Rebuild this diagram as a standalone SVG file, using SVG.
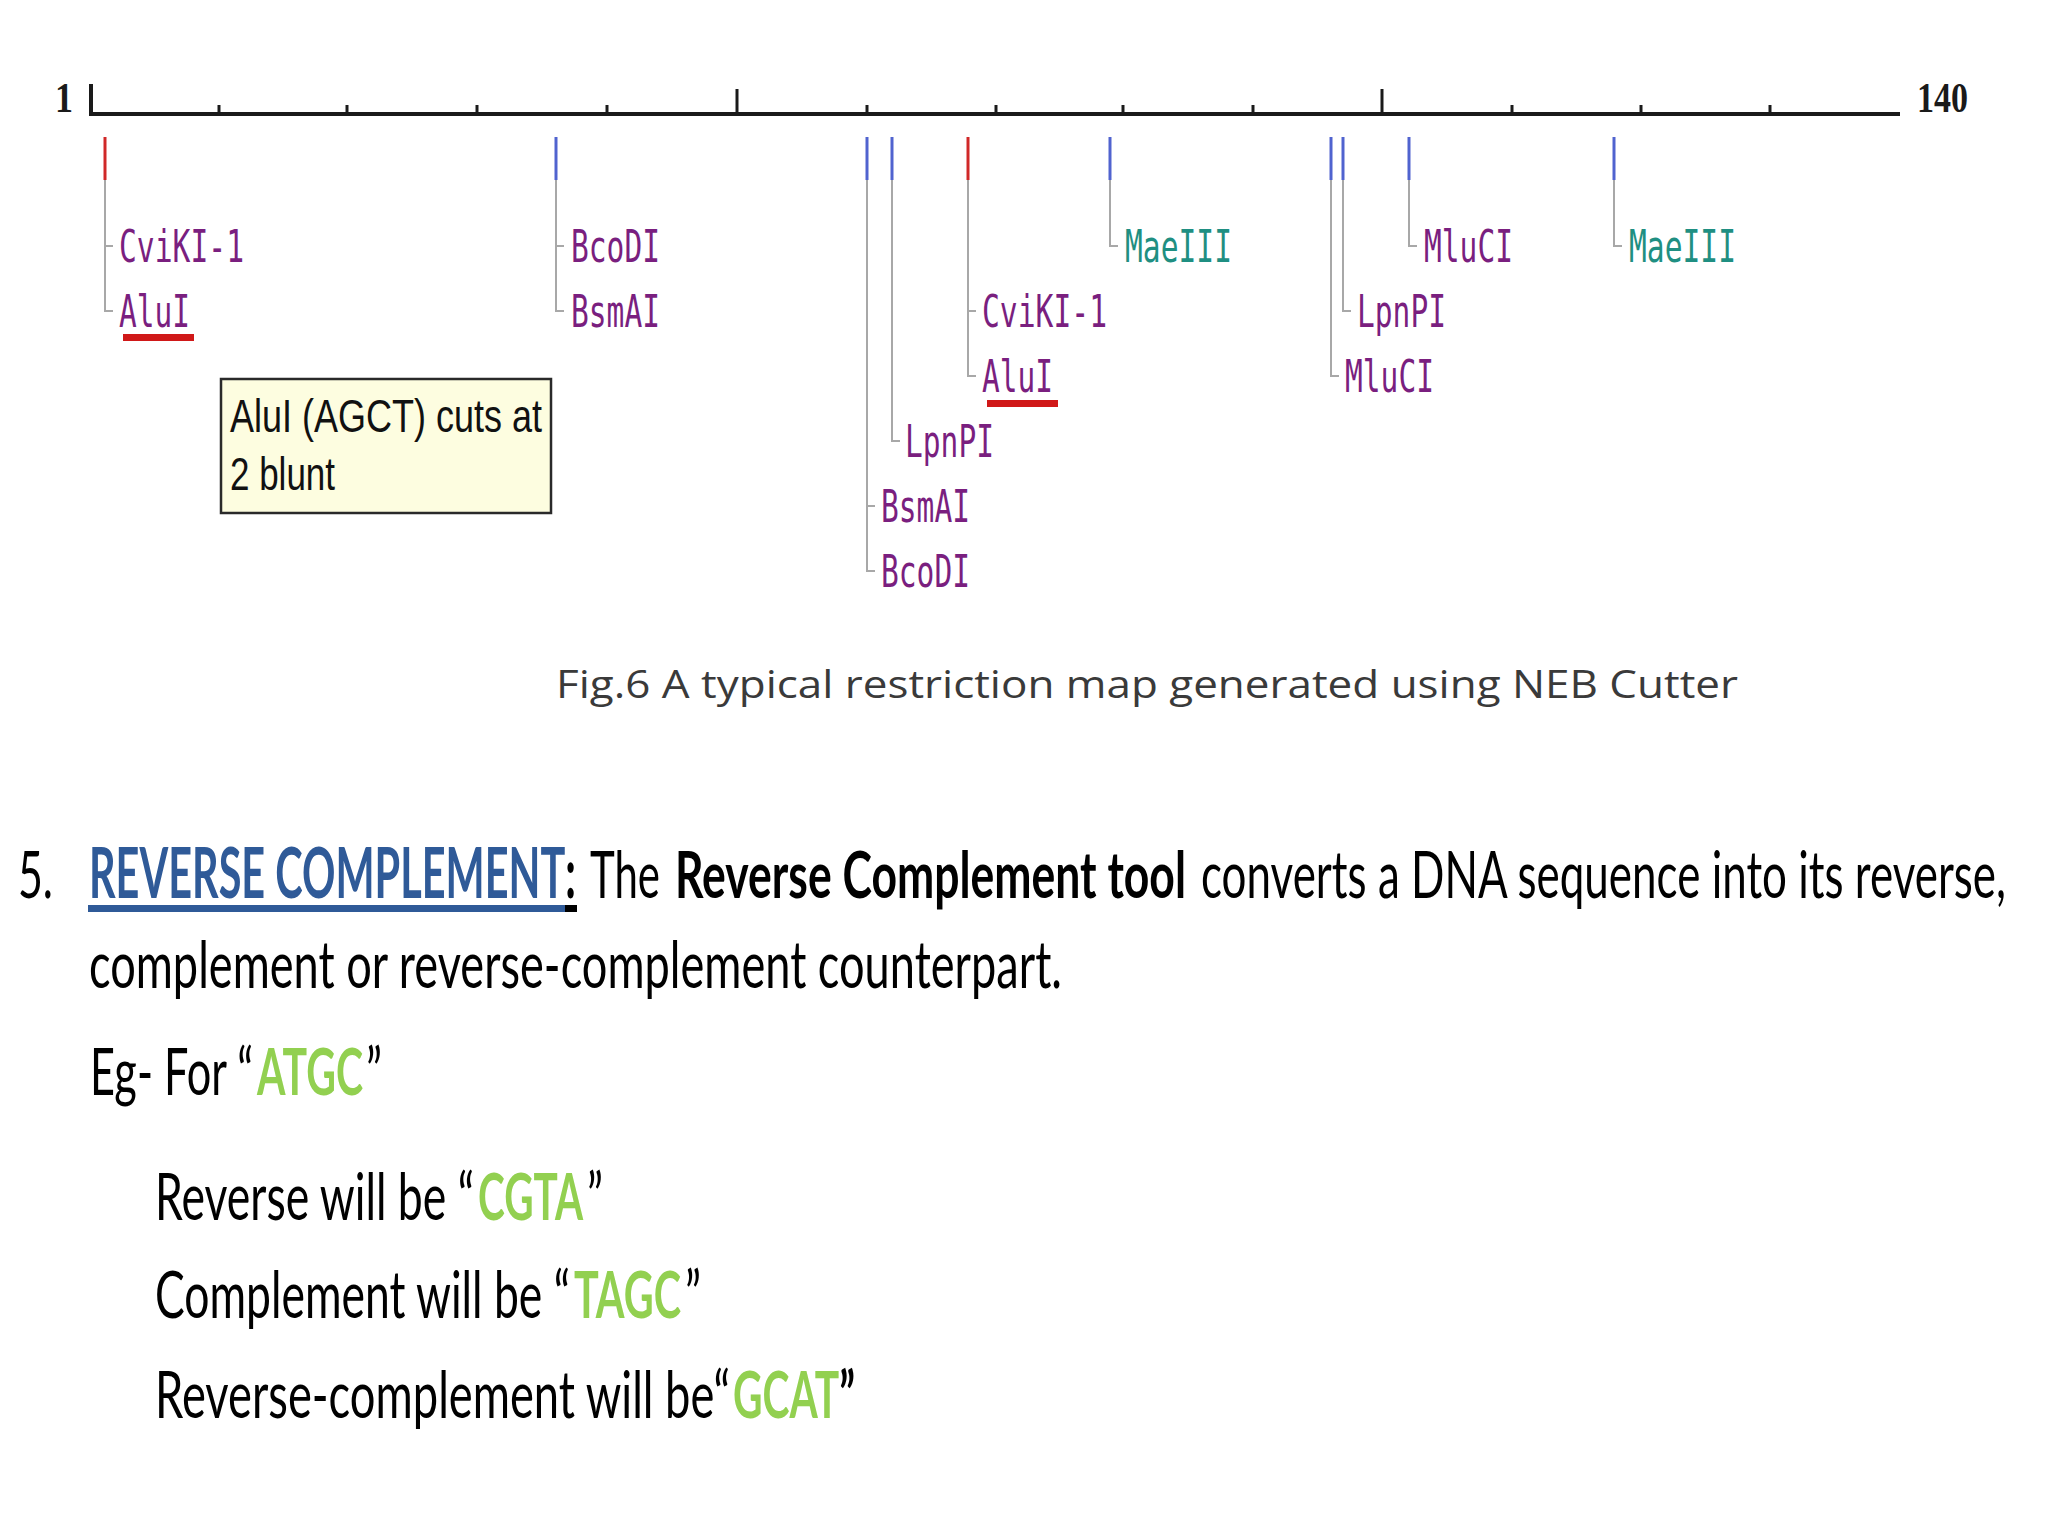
<svg xmlns="http://www.w3.org/2000/svg" width="2048" height="1536" viewBox="0 0 2048 1536">
<style>
.lbl{font-family:"DejaVu Sans Mono","Liberation Mono",monospace;font-size:44px;fill:#7a1f7f}
.teal{fill:#1f8f82}
.conn{stroke:#a8a8a8;stroke-width:2;fill:none}
.siteR{stroke:#d02828;stroke-width:3}
.siteB{stroke:#5063cf;stroke-width:3}
.rul{stroke:#1a1a1a;stroke-width:4;fill:none}
.tick{stroke:#1a1a1a;stroke-width:3}
.num{font-family:"Liberation Serif","Times New Roman",serif;font-weight:bold;fill:#1a1a1a}
.body{font-family:Lato,"Open Sans",sans-serif;font-size:42px;fill:#000}
.b{font-weight:bold}
.grn{fill:#92d050;font-weight:bold}
.hd{fill:#2f5a98;font-weight:bold}
</style>
<rect width="2048" height="1536" fill="#ffffff"/>

<g id="ruler">
<path class="rul" d="M91 84 V114 H1900"/>
<g class="tick">
<line x1="219" y1="105" x2="219" y2="114"/>
<line x1="347" y1="105" x2="347" y2="114"/>
<line x1="477" y1="105" x2="477" y2="114"/>
<line x1="607" y1="105" x2="607" y2="114"/>
<line x1="737" y1="89" x2="737" y2="114"/>
<line x1="867" y1="105" x2="867" y2="114"/>
<line x1="996" y1="105" x2="996" y2="114"/>
<line x1="1123" y1="105" x2="1123" y2="114"/>
<line x1="1253" y1="105" x2="1253" y2="114"/>
<line x1="1382" y1="89" x2="1382" y2="114"/>
<line x1="1512" y1="105" x2="1512" y2="114"/>
<line x1="1641" y1="105" x2="1641" y2="114"/>
<line x1="1770" y1="105" x2="1770" y2="114"/>
</g>
<text class="num" x="55" y="112" font-size="42" textLength="18" lengthAdjust="spacingAndGlyphs">1</text>
<text class="num" x="1917" y="112" font-size="42" textLength="51" lengthAdjust="spacingAndGlyphs">140</text>
</g>

<g id="connectors">
<path class="conn" d="M105 180 V311 H113 M105 246 H113"/>
<path class="conn" d="M556 180 V311 H564 M556 246 H564"/>
<path class="conn" d="M867 180 V571 H875 M867 506 H875"/>
<path class="conn" d="M892 180 V441 H900"/>
<path class="conn" d="M968 180 V376 H976 M968 311 H976"/>
<path class="conn" d="M1110 180 V246 H1118"/>
<path class="conn" d="M1331 180 V376 H1339"/>
<path class="conn" d="M1343 180 V311 H1351"/>
<path class="conn" d="M1409 180 V246 H1417"/>
<path class="conn" d="M1614 180 V246 H1622"/>
<line class="siteR" x1="105" y1="137" x2="105" y2="180"/>
<line class="siteB" x1="556" y1="137" x2="556" y2="180"/>
<line class="siteB" x1="867" y1="137" x2="867" y2="180"/>
<line class="siteB" x1="892" y1="137" x2="892" y2="180"/>
<line class="siteR" x1="968" y1="137" x2="968" y2="180"/>
<line class="siteB" x1="1110" y1="137" x2="1110" y2="180"/>
<line class="siteB" x1="1331" y1="137" x2="1331" y2="180"/>
<line class="siteB" x1="1343" y1="137" x2="1343" y2="180"/>
<line class="siteB" x1="1409" y1="137" x2="1409" y2="180"/>
<line class="siteB" x1="1614" y1="137" x2="1614" y2="180"/>
</g>

<g id="site-105">
<text class="lbl" x="119" y="262" textLength="125" lengthAdjust="spacingAndGlyphs">CviKI-1</text>
<text class="lbl" x="119" y="327" textLength="71" lengthAdjust="spacingAndGlyphs">AluI</text>
<rect x="123" y="334" width="71" height="7" fill="#d01818"/>
</g>
<g id="site-556">
<text class="lbl" x="571" y="262" textLength="89" lengthAdjust="spacingAndGlyphs">BcoDI</text>
<text class="lbl" x="571" y="327" textLength="89" lengthAdjust="spacingAndGlyphs">BsmAI</text>
</g>
<g id="site-867">
<text class="lbl" x="881" y="522" textLength="89" lengthAdjust="spacingAndGlyphs">BsmAI</text>
<text class="lbl" x="881" y="587" textLength="89" lengthAdjust="spacingAndGlyphs">BcoDI</text>
</g>
<g id="site-892">
<text class="lbl" x="905" y="457" textLength="89" lengthAdjust="spacingAndGlyphs">LpnPI</text>
</g>
<g id="site-968">
<text class="lbl" x="982" y="327" textLength="125" lengthAdjust="spacingAndGlyphs">CviKI-1</text>
<text class="lbl" x="982" y="392" textLength="71" lengthAdjust="spacingAndGlyphs">AluI</text>
<rect x="987" y="400" width="71" height="7" fill="#d01818"/>
</g>
<g id="site-1110">
<text class="lbl teal" x="1125" y="262" textLength="107" lengthAdjust="spacingAndGlyphs">MaeIII</text>
</g>
<g id="site-1331">
<text class="lbl" x="1345" y="392" textLength="89" lengthAdjust="spacingAndGlyphs">MluCI</text>
</g>
<g id="site-1343">
<text class="lbl" x="1357" y="327" textLength="89" lengthAdjust="spacingAndGlyphs">LpnPI</text>
</g>
<g id="site-1409">
<text class="lbl" x="1424" y="262" textLength="89" lengthAdjust="spacingAndGlyphs">MluCI</text>
</g>
<g id="site-1614">
<text class="lbl teal" x="1629" y="262" textLength="107" lengthAdjust="spacingAndGlyphs">MaeIII</text>
</g>

<g id="tooltip">
<rect x="221" y="379" width="330" height="134" fill="#fdfde0" stroke="#2a2a2a" stroke-width="2.5"/>
<text x="230" y="432" font-family="'Liberation Sans',Arial,sans-serif" font-size="47" fill="#111" textLength="312" lengthAdjust="spacingAndGlyphs">AluI (AGCT) cuts at</text>
<text x="230" y="490" font-family="'Liberation Sans',Arial,sans-serif" font-size="47" fill="#111" textLength="105" lengthAdjust="spacingAndGlyphs">2 blunt</text>
</g>

<g id="caption">
<text x="556" y="698" font-family="'Open Sans','Noto Sans',sans-serif" font-size="38" fill="#3a3a3a" textLength="1182" lengthAdjust="spacingAndGlyphs">Fig.6 A typical restriction map generated using NEB Cutter</text>
</g>

<g id="reverse-complement">
<rect x="88" y="905" width="478" height="7" fill="#2f5a98"/>
<rect x="565" y="905" width="12" height="7" fill="#000"/>
<g transform="translate(0 898) scale(1 1.70)">
<text class="body hd" x="89" y="0" font-size="37" textLength="487" lengthAdjust="spacingAndGlyphs">REVERSE COMPLEMENT<tspan fill="#000">:</tspan></text>
</g>
<g transform="translate(0 898) scale(1 1.57)">
<text class="body" x="18" y="0" textLength="35" lengthAdjust="spacingAndGlyphs">5.</text>
<text class="body" x="590" y="0" textLength="70" lengthAdjust="spacingAndGlyphs">The</text>
<text class="body b" x="675" y="0" textLength="511" lengthAdjust="spacingAndGlyphs">Reverse Complement tool</text>
<text class="body" x="1201" y="0" textLength="805" lengthAdjust="spacingAndGlyphs">converts a DNA sequence into its reverse,</text>
</g>
<g transform="translate(0 988) scale(1 1.57)">
<text class="body" x="89" y="0" textLength="973" lengthAdjust="spacingAndGlyphs">complement or reverse-complement counterpart.</text>
</g>
<g transform="translate(0 1095) scale(1 1.57)">
<text class="body" x="90" y="0" textLength="163" lengthAdjust="spacingAndGlyphs">Eg- For “</text>
<text class="body grn" x="257" y="0" textLength="106" lengthAdjust="spacingAndGlyphs">ATGC</text>
<text class="body" x="366" y="0" textLength="16" lengthAdjust="spacingAndGlyphs">”</text>
</g>
<g transform="translate(0 1220) scale(1 1.57)">
<text class="body" x="155" y="0" textLength="319" lengthAdjust="spacingAndGlyphs">Reverse will be “</text>
<text class="body grn" x="478" y="0" textLength="105" lengthAdjust="spacingAndGlyphs">CGTA</text>
<text class="body" x="587" y="0" textLength="16" lengthAdjust="spacingAndGlyphs">”</text>
</g>
<g transform="translate(0 1318) scale(1 1.57)">
<text class="body" x="155" y="0" textLength="415" lengthAdjust="spacingAndGlyphs">Complement will be “</text>
<text class="body grn" x="574" y="0" textLength="107" lengthAdjust="spacingAndGlyphs">TAGC</text>
<text class="body" x="685" y="0" textLength="16" lengthAdjust="spacingAndGlyphs">”</text>
</g>
<g transform="translate(0 1418) scale(1 1.57)">
<text class="body" x="155" y="0" textLength="575" lengthAdjust="spacingAndGlyphs">Reverse-complement will be“</text>
<text class="body grn" x="733" y="0" font-size="41" textLength="122" lengthAdjust="spacingAndGlyphs">GCAT<tspan fill="#000">”</tspan></text>
</g>
</g>
</svg>
